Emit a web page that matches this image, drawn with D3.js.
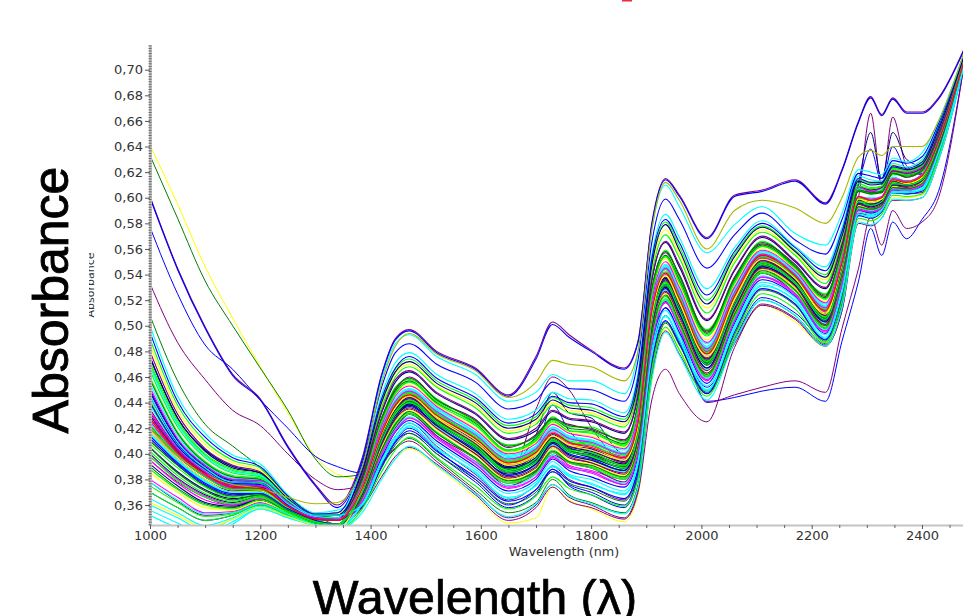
<!DOCTYPE html>
<html>
<head>
<meta charset="utf-8">
<style>
  html, body { margin: 0; padding: 0; background: #fff; overflow: hidden; }
</style>
<script src="https://cdn.jsdelivr.net/npm/d3@7"></script>
</head>
<body>
<div id="chart"></div>
<script>
const xTicks = [1000, 1200, 1400, 1600, 1800, 2000, 2200, 2400];
const xMinor = [1050, 1100, 1150, 1250, 1300, 1350, 1450, 1500, 1550, 1650, 1700, 1750, 1850, 1900, 1950, 2050, 2100, 2150, 2250, 2300, 2350, 2450];
const yTicks = [0.36, 0.38, 0.40, 0.42, 0.44, 0.46, 0.48, 0.50, 0.52, 0.54, 0.56, 0.58, 0.60, 0.62, 0.64, 0.66, 0.68, 0.70];

const wavelengths = [1000,1050,1100,1150,1200,1250,1300,1340,1385,1420,1445,1470,1520,1590,1650,1700,1730,1760,1800,1860,1885,1910,1935,1960,2010,2060,2110,2170,2225,2255,2285,2307,2327,2347,2372,2400,2430,2475];

// absorbance x 1000 at the wavelengths above
const m01 = [430,402,385,374,374,359,349,348,373,415,437,445,429,410,392,400,415,407,404,395,422,509,539,518,476,520,553,537,510,548,600,597,600,614,612,616,644,705];
const m02 = [500,445,416,399,392,368,354,356,376,420,442,450,436,417,398,406,421,413,410,401,428,517,547,527,484,528,558,541,516,552,607,605,607,621,619,624,651,706];
const m03 = [380,366,354,355,362,353,345,344,365,401,420,431,414,394,377,384,401,391,387,380,402,488,519,501,458,507,541,525,496,536,591,590,594,607,607,611,638,703];
const m04 = [470,424,399,387,383,364,352,352,381,427,452,458,443,425,407,413,429,421,421,409,440,527,559,538,497,536,566,546,525,558,607,603,606,618,618,620,649,707];
const m05 = [410,391,375,367,369,357,347,345,369,411,430,441,423,406,385,395,409,403,397,390,414,503,531,513,469,516,547,534,504,544,596,595,596,612,609,615,641,705];
const m06 = [440,405,388,377,376,360,350,350,377,423,446,454,438,420,401,409,424,417,414,405,433,522,552,532,489,531,560,544,519,555,609,606,608,622,620,625,651,706];
const m07 = [352,342,334,345,357,350,344,341,361,393,411,422,404,386,365,376,390,383,376,369,391,477,507,490,449,498,531,520,490,527,586,586,589,605,603,607,634,702];
const m08 = [420,398,382,372,371,358,348,348,368,406,426,435,420,400,381,389,405,397,393,384,409,495,526,505,463,510,544,530,501,539,594,592,595,609,609,612,640,704];
const m09 = [490,438,410,395,389,367,353,354,371,409,432,439,425,404,387,393,411,401,399,388,416,501,533,511,471,514,549,532,506,542,598,593,598,610,611,613,643,705];
const m10 = [400,381,368,362,367,356,347,345,382,432,456,464,447,431,411,418,433,427,425,416,445,535,565,546,504,543,569,550,529,563,608,606,607,621,618,623,650,708];
const m11 = [450,411,391,380,379,362,351,350,362,397,417,426,410,390,371,380,396,387,382,374,398,483,514,495,455,502,536,523,494,531,590,588,592,606,605,609,637,703];
const m12 = [360,350,340,349,358,351,344,341,376,418,440,449,432,416,395,405,418,413,408,401,426,514,546,524,483,525,557,539,515,550,607,603,607,619,619,622,650,706];
const m13 = [425,400,383,373,372,358,349,348,374,417,438,447,431,412,394,402,417,409,406,398,424,512,542,522,480,523,554,538,512,549,601,598,600,615,612,618,644,706];
const m14 = [460,417,394,383,381,363,351,352,367,404,424,432,417,397,378,387,403,394,390,381,406,492,523,503,461,508,542,528,499,537,593,591,594,608,608,611,639,704];
const m15 = [390,373,361,358,364,354,346,344,371,413,434,442,426,407,389,397,412,404,401,392,418,506,535,515,473,518,550,535,507,546,598,595,598,612,611,615,642,705];
const m16 = [435,403,386,375,375,359,350,348,385,438,463,470,453,438,418,425,440,434,432,423,453,544,575,556,514,551,575,556,536,569,615,612,613,626,624,629,655,708];
const m17 = [415,394,378,369,370,357,348,345,375,420,440,450,434,414,397,405,420,411,410,399,428,516,544,526,481,527,555,541,513,552,600,600,600,616,613,618,646,706];
const m18 = [480,431,404,391,386,366,353,354,366,403,420,431,414,396,375,386,399,393,389,378,404,490,519,501,460,505,541,525,498,534,593,589,594,607,608,609,639,703];
const m19 = [375,362,351,353,361,353,345,344,378,424,447,456,439,422,402,410,425,418,416,407,435,523,554,534,492,533,562,545,521,556,609,607,609,623,621,625,652,707];
const m20 = [405,386,372,365,368,356,347,345,372,412,435,443,428,408,389,397,413,405,400,392,420,505,536,516,472,519,551,535,508,545,599,596,598,613,610,616,643,705];
const m21 = [445,408,389,378,377,361,350,350,359,390,409,418,402,382,363,372,388,379,374,365,388,472,504,486,447,495,529,517,489,524,586,584,589,604,603,605,634,702];
const m22 = [425,401,384,373,373,358,349,348,369,407,428,437,421,402,383,391,407,399,395,386,412,498,528,508,466,512,545,531,502,540,595,593,595,610,608,613,641,704];
const m23 = [395,377,364,360,365,355,346,344,374,416,436,446,430,411,392,401,416,408,405,396,423,510,540,520,478,522,553,538,511,548,600,597,599,614,612,617,644,705];
const m24 = [465,421,397,385,382,364,352,352,387,441,466,474,457,442,422,429,444,438,436,427,458,549,581,562,520,556,578,559,540,572,614,611,611,625,622,627,654,709];
const m25 = [428,401,384,374,373,359,349,348,371,411,432,441,425,405,388,396,411,403,399,391,417,504,534,514,471,517,549,534,506,545,597,596,597,613,610,615,642,705];
const m26 = [385,370,358,356,363,354,346,344,367,405,426,434,419,399,380,388,405,395,392,383,408,495,525,504,462,509,544,529,500,538,594,592,594,609,608,612,640,704];
const m27 = [455,414,392,381,380,362,351,350,376,421,443,451,435,417,399,406,421,414,411,403,430,518,548,528,486,529,558,542,517,553,608,605,607,621,619,624,651,706];
const m28 = [418,396,380,371,371,358,348,345,380,428,450,460,442,427,405,415,427,423,419,411,438,529,557,540,495,538,564,548,523,560,605,605,604,620,616,622,648,707];
const m29 = [370,358,348,352,360,352,345,341,357,386,403,413,397,375,357,367,382,373,368,359,381,465,499,481,445,491,525,513,487,519,584,582,587,602,601,603,632,701];
const m30 = [475,428,402,389,385,365,352,352,373,414,435,444,427,409,390,399,414,406,402,394,421,508,537,517,474,519,552,536,509,547,599,596,598,613,611,616,643,705];
const m31 = [412,392,376,368,369,357,347,345,368,408,428,437,422,403,383,392,408,400,396,387,413,499,529,509,467,513,546,532,503,541,595,593,596,610,609,613,641,704];
const m32 = [438,405,387,376,376,360,350,350,390,446,471,479,462,447,427,434,448,443,442,432,463,555,587,569,529,561,582,562,546,577,617,614,613,627,624,630,656,710];
const m33 = [398,380,367,361,366,356,347,345,364,399,418,428,412,392,374,382,398,390,385,376,401,487,518,498,458,504,538,524,496,533,591,589,592,607,606,610,638,703];
const m34 = [442,406,388,377,377,360,350,350,375,418,440,448,432,414,395,403,419,410,408,399,426,513,544,523,481,525,556,540,513,551,606,603,606,620,618,623,650,706];
const m35 = [422,399,382,372,371,358,348,348,379,426,449,457,440,424,403,412,427,420,418,408,436,525,555,536,494,535,563,546,522,557,605,603,604,619,616,621,647,707];
const m36 = [485,434,407,393,387,366,353,354,369,407,428,436,420,401,382,390,406,398,394,385,410,496,527,507,465,511,545,530,501,540,594,593,595,610,609,612,640,704];
const m37 = [365,354,344,350,359,351,344,341,363,400,419,429,413,393,375,384,399,389,386,377,402,488,520,499,459,505,539,525,497,534,592,590,593,607,606,610,637,703];
const m38 = [432,403,385,375,374,359,349,348,372,414,433,444,427,408,391,399,413,406,403,393,420,507,536,517,474,518,551,535,508,546,598,597,597,613,610,616,642,705];
const m39 = [402,383,369,363,367,356,347,345,384,436,460,468,452,436,416,423,438,432,430,421,451,540,571,553,510,549,573,555,533,566,611,608,609,622,620,625,651,708];
const m40 = [448,410,390,379,378,361,351,350,370,410,430,439,424,405,386,394,409,402,397,389,414,502,532,512,470,515,548,533,505,543,597,594,597,611,610,614,642,705];
const m41 = [495,441,413,397,390,367,353,354,393,452,479,486,470,456,435,442,456,451,450,441,473,565,599,583,545,571,588,567,556,583,619,617,615,629,627,632,658,711];
const m42 = [356,346,337,347,357,350,344,341,354,380,396,406,391,369,351,361,376,367,361,353,374,458,495,477,442,487,520,508,484,514,581,579,584,599,598,600,629,701];
const m43 = [426,400,383,373,372,358,349,348,377,422,445,453,437,419,400,408,423,416,413,404,431,519,550,530,487,530,559,543,518,554,608,605,608,621,620,624,651,706];
const m44 = [408,389,374,366,368,357,347,345,366,402,422,431,416,396,377,385,401,393,389,380,404,490,521,501,460,507,541,527,498,536,592,591,593,608,607,611,639,704];
const m45 = [458,416,393,382,380,363,351,352,379,428,451,459,442,426,406,414,428,422,420,410,439,528,558,539,496,537,565,547,524,559,606,604,605,619,617,621,648,707];
const m46 = [418,396,380,370,371,358,348,348,373,416,436,446,429,411,392,400,414,407,405,395,423,509,539,519,476,521,552,537,510,548,599,597,599,614,612,616,644,705];
const m47 = [378,364,353,354,361,353,345,344,361,395,414,424,408,388,369,378,394,384,380,371,395,481,512,493,453,500,534,522,493,529,589,587,591,605,605,608,636,702];
const m48 = [435,404,386,376,375,360,350,348,383,433,458,465,448,432,412,420,434,428,426,417,447,536,566,548,505,544,570,551,530,564,609,606,608,621,619,623,650,708];
const m49 = [472,426,400,388,384,364,352,352,371,412,433,442,425,407,387,396,411,403,401,391,417,505,534,514,472,517,549,534,507,544,597,595,597,612,610,615,642,705];
const m50 = [392,375,362,359,364,355,346,344,369,408,428,438,422,402,384,392,408,399,395,387,413,500,530,510,467,513,546,532,503,542,595,593,596,610,609,614,641,704];
const m51 = [440,406,388,377,376,360,350,350,388,443,467,476,459,444,424,431,445,440,439,429,460,552,583,565,524,558,580,561,543,574,615,612,612,625,623,628,655,709];
const m52 = [416,395,379,370,370,357,348,345,375,419,441,449,433,415,396,404,418,412,409,400,427,515,545,525,482,526,556,540,514,551,601,599,601,615,613,618,645,706];
const m53 = [452,412,391,380,379,362,351,350,363,400,418,428,413,392,373,382,397,389,386,376,401,486,518,498,457,504,538,525,495,533,590,589,592,606,606,610,638,703];
const m54 = [423,399,382,372,372,358,348,348,377,425,447,456,441,423,403,411,426,418,417,406,436,524,554,534,493,534,562,545,521,556,609,607,609,623,621,625,653,707];
const m55 = [405,385,371,364,368,356,347,345,366,403,423,433,416,397,379,387,402,394,391,382,406,493,524,503,462,509,543,528,500,537,593,591,594,608,607,611,639,704];
const m56 = [362,352,342,349,358,351,344,341,372,415,436,445,428,409,391,399,414,407,403,395,421,509,539,518,476,520,552,537,509,547,599,596,599,614,611,616,643,705];
const m57 = [445,409,389,378,378,361,351,350,396,458,486,493,476,462,441,448,462,457,457,447,480,575,610,593,557,579,593,572,563,588,622,620,618,631,628,635,660,711];
const m58 = [430,402,385,375,374,359,349,348,368,407,427,436,420,400,382,390,406,398,393,385,411,497,527,507,465,512,545,531,501,541,595,592,595,610,608,613,641,704];
const m59 = [388,372,360,357,364,354,346,344,374,417,439,447,431,413,394,402,416,409,407,397,425,512,542,522,479,524,554,538,512,550,600,598,600,614,613,617,644,706];
const m60 = [476,428,403,390,385,365,352,352,386,440,464,472,455,440,420,427,442,436,434,425,455,547,579,559,517,554,577,558,538,570,613,610,611,624,622,626,653,709];
const m61 = [414,393,377,369,369,357,348,345,370,411,431,440,424,405,386,395,410,402,398,389,415,502,532,513,470,516,548,533,505,544,596,595,597,611,610,614,642,705];
const m62 = [468,423,398,386,383,364,352,352,360,393,412,421,405,385,366,375,391,382,377,368,392,476,508,489,450,497,532,519,491,526,587,585,590,604,604,606,635,702];
const m63 = [433,404,386,375,375,359,350,348,376,419,441,449,433,415,396,404,419,412,409,400,427,515,545,525,482,526,556,540,514,551,601,599,601,615,613,618,645,706];
const m64 = [398,379,366,361,366,355,347,345,370,410,431,440,424,405,386,394,410,402,398,389,415,502,532,512,470,515,548,533,505,543,597,594,597,611,610,614,642,705];

// lines that stand apart from the bundle
const topSpiked = [601,545,499,462,443,406,376,360,397,462,490,497,480,467,446,476,503,493,481,467,488,580,615,602,569,602,606,614,596,622,660,679,665,678,667,667,678,715];
const topSpikedTwin = [600,544,498,461,442,405,375,358,395,461,489,496,479,466,445,474,501,491,480,466,487,579,614,601,568,601,605,613,595,621,659,678,664,677,666,666,677,714];
const upperGreen = [420,398,384,376,373,366,361,362,390,455,484,494,478,465,444,456,473,470,468,457,480,575,612,598,560,590,598,592,580,600,632,637,633,640,640,640,660,712];
const highYellow = [641,595,546,506,468,432,398,384,380,383,396,404,390,366,346,350,374,364,357,347,368,456,498,482,450,486,516,503,484,512,584,582,587,600,600,602,632,702];
const highGreen = [633,584,535,500,467,434,396,382,384,393,405,412,396,372,354,362,380,368,362,354,376,464,502,485,449,488,520,508,486,514,590,588,591,604,604,606,634,702];
const highBlue = [577,525,485,466,442,420,398,390,385,398,410,416,400,378,358,368,388,375,368,358,382,470,508,488,452,490,522,510,490,518,596,594,597,612,610,612,640,703];
const highPurple = [533,487,458,434,422,400,380,372,376,392,404,410,394,370,350,360,376,366,360,350,372,460,496,478,447,486,517,506,485,512,588,586,590,604,603,604,633,702];
const highDarkGreen = [508,457,423,406,389,367,352,345,359,389,407,416,400,380,361,370,386,377,372,363,386,470,503,486,448,493,528,516,488,522,600,598,601,616,613,614,641,702];
const dipPurple = [395,378,366,360,364,354,346,344,358,382,398,405,392,368,348,358,374,363,358,349,370,442,466,447,425,483,516,505,484,512,580,578,584,598,598,600,629,701];
const flatBlue = [370,358,348,352,360,352,345,341,362,392,410,420,403,380,360,372,386,376,370,360,385,475,514,494,441,444,449,452,441,488,535,576,555,581,568,583,605,700];
const flatPurple = [378,363,352,354,361,353,345,344,364,396,414,424,406,384,364,376,390,380,374,364,390,480,520,498,440,446,452,457,448,498,545,585,563,590,576,581,600,700];
const spikePurple = [410,391,375,367,369,357,347,345,370,410,430,438,420,400,380,435,460,450,421,395,420,505,538,518,475,520,552,535,510,545,600,666,610,663,625,618,645,706];
const spikeNavy = [425,400,383,373,372,358,349,348,375,418,440,448,432,412,392,415,448,432,428,400,425,512,544,522,480,526,556,540,515,551,612,651,615,651,630,625,648,706];
const spikeBlue = [440,406,388,377,376,360,350,350,372,415,436,444,428,408,388,402,438,418,404,395,420,505,538,518,476,520,552,536,510,546,610,638,612,640,622,619,646,706];
const redLine = [428,401,384,374,373,359,349,348,373,416,438,446,430,412,393,401,416,409,405,397,424,511,541,521,478,523,555,539,512,549,601,598,600,614,612,617,644,705];

const mainLines = [m01,m02,m03,m04,m05,m06,m07,m08,m09,m10,m11,m12,m13,m14,m15,m16,m17,m18,m19,m20,m21,m22,m23,m24,m25,m26,m27,m28,m29,m30,m31,m32,m33,m34,m35,m36,m37,m38,m39,m40,m41,m42,m43,m44,m45,m46,m47,m48,m49,m50,m51,m52,m53,m54,m55,m56,m57,m58,m59,m60,m61,m62,m63,m64];
const palette = ["#0000ff", "#00ffff", "#ff00ff", "#00ff00", "#008000", "#ffff00", "#00ffff", "#800080", "#00ff00", "#000080"];

const otherLines = [highYellow, highGreen, highBlue, highPurple, highDarkGreen, dipPurple, flatBlue, flatPurple, spikePurple, spikeNavy, spikeBlue, topSpiked, topSpikedTwin, upperGreen, redLine];
const otherColors = ["#ffff00", "#008000", "#0000ff", "#800080", "#008000", "#800080", "#0000ff", "#800080", "#800080", "#000080", "#0000ff", "#800080", "#0000ff", "#a8b800", "#ff0000"];

const width = 963, height = 616;
const margin = {top: 45, right: 0, bottom: 91, left: 150};

const svg = d3.select("#chart").append("svg")
    .attr("width", width)
    .attr("height", height)
    .style("display", "block");

const x = d3.scaleLinear().domain([1000, 2474.4]).range([margin.left, width]);
const y = d3.scaleLinear().domain([0.3444, 0.7193]).range([height - margin.bottom, margin.top]);

svg.append("defs").append("clipPath").attr("id", "plot")
  .append("rect")
    .attr("x", margin.left)
    .attr("y", margin.top)
    .attr("width", width - margin.left)
    .attr("height", height - margin.top - margin.bottom);

svg.select("defs").append("clipPath").attr("id", "smallLabel")
  .append("rect")
    .attr("x", 89)
    .attr("y", 240)
    .attr("width", 12)
    .attr("height", 90);

// spectra
const line = d3.line()
    .x(function(d, i) { return x(wavelengths[i]); })
    .y(function(d) { return y(d / 1000); })
    .curve(d3.curveMonotoneX);

const plot = svg.append("g").attr("clip-path", "url(#plot)").attr("fill", "none");

plot.selectAll(".other")
  .data(otherLines.slice(0, 11))
  .enter().append("path")
    .attr("class", "other")
    .attr("d", line)
    .attr("stroke", function(d, i) { return otherColors[i]; })
    .attr("stroke-width", 1);

plot.selectAll(".main")
  .data(mainLines)
  .enter().append("path")
    .attr("class", "main")
    .attr("d", line)
    .attr("stroke", function(d, i) { return palette[i % palette.length]; })
    .attr("stroke-width", 1.1);

plot.selectAll(".top")
  .data(otherLines.slice(11))
  .enter().append("path")
    .attr("class", "top")
    .attr("d", line)
    .attr("stroke", function(d, i) { return otherColors[i + 11]; })
    .attr("stroke-width", 1.1);

// axes
const axisColor = "#c4c4c4";
const textColor = "#333";

const yMinorValues = d3.range(0, 188).map(function(i) { return 0.345 + i * 0.002; });

const yMinorAxis = svg.append("g")
    .attr("transform", "translate(" + margin.left + ",0)")
    .call(d3.axisLeft(y).tickValues(yMinorValues).tickSize(1.5).tickSizeOuter(0).tickFormat(""));
yMinorAxis.select(".domain").attr("stroke", axisColor).attr("stroke-width", 3);
yMinorAxis.selectAll("line").attr("stroke", "#666").attr("x2", 1.5).attr("x1", -1.5);

const yAxis = svg.append("g")
    .attr("transform", "translate(" + margin.left + ",0)")
    .call(d3.axisLeft(y).tickValues(yTicks).tickSize(5).tickPadding(2).tickFormat(function(d) { return d.toFixed(2).replace(".", ","); }));
yAxis.select(".domain").remove();
yAxis.selectAll("line").attr("stroke", "#555");
yAxis.selectAll("text")
    .attr("font-family", "'DejaVu Sans'")
    .attr("font-size", 13)
    .attr("fill", textColor);

const xMinorAxis = svg.append("g")
    .attr("transform", "translate(0," + (height - margin.bottom) + ")")
    .call(d3.axisBottom(x).tickValues(xMinor).tickSize(3).tickSizeOuter(0).tickFormat(""));
xMinorAxis.select(".domain").attr("stroke", axisColor).attr("stroke-width", 2);
xMinorAxis.selectAll("line").attr("stroke", "#666");

const xAxis = svg.append("g")
    .attr("transform", "translate(0," + (height - margin.bottom) + ")")
    .call(d3.axisBottom(x).tickValues(xTicks).tickSize(4).tickPadding(2).tickFormat(d3.format("d")));
xAxis.select(".domain").remove();
xAxis.selectAll("line").attr("stroke", "#555");
xAxis.selectAll("text")
    .attr("font-family", "'DejaVu Sans'")
    .attr("font-size", 13)
    .attr("fill", textColor);

// labels
svg.append("text")
    .attr("x", 564)
    .attr("y", 556)
    .attr("text-anchor", "middle")
    .attr("font-family", "'DejaVu Sans'")
    .attr("font-size", 12.8)
    .attr("fill", textColor)
    .text("Wavelength (nm)");

svg.append("g").attr("clip-path", "url(#smallLabel)")
  .append("text")
    .attr("transform", "translate(94,285) rotate(-90)")
    .attr("text-anchor", "middle")
    .attr("font-family", "'DejaVu Sans'")
    .attr("font-size", 11)
    .attr("fill", textColor)
    .text("Absorbance");

svg.append("text")
    .attr("transform", "translate(68,300) rotate(-90)")
    .attr("text-anchor", "middle")
    .attr("font-family", "'Liberation Sans'")
    .attr("font-size", 50)
    .attr("fill", "#000")
    .attr("stroke", "#000")
    .attr("stroke-width", 0.9)
    .text("Absorbance");

svg.append("text")
    .attr("x", 475)
    .attr("y", 614)
    .attr("text-anchor", "middle")
    .attr("font-family", "'Liberation Sans'")
    .attr("font-size", 48.5)
    .attr("fill", "#000")
    .attr("stroke", "#000")
    .attr("stroke-width", 0.7)
    .text("Wavelength (λ)");

// bit of the cropped red mark at the top edge
svg.append("rect")
    .attr("x", 622)
    .attr("y", 0)
    .attr("width", 10)
    .attr("height", 1.5)
    .attr("fill", "#ee2a3c");
</script>
</body>
</html>
